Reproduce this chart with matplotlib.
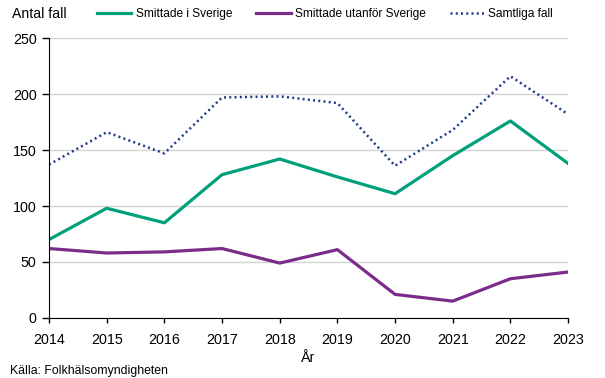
import numpy as np
import matplotlib
matplotlib.use("Agg")
from matplotlib import pyplot as plt

years = [2014, 2015, 2016, 2017, 2018, 2019, 2020, 2021, 2022, 2023]
smittade_sverige = [70, 98, 85, 128, 142, 126, 111, 145, 176, 138]
smittade_utanfor = [62, 58, 59, 62, 49, 61, 21, 15, 35, 41]
samtliga = [137, 166, 147, 197, 198, 192, 136, 168, 216, 182]

plt.rcParams['font.family'] = ['Liberation Sans', 'DejaVu Sans']

fig = plt.figure(figsize=(6.05, 3.78), dpi=100)
ax = fig.add_axes([0.081, 0.159, 0.858, 0.740])

ax.plot(years, smittade_sverige, color='#00A07A', lw=2.3, label='Smittade i Sverige')
ax.plot(years, smittade_utanfor, color='#7B2C8A', lw=2.3, label='Smittade utanför Sverige')
ax.plot(years, samtliga, color='#1F3B8C', lw=1.8, ls=(0, (0.8, 1.3)), label='Samtliga fall')

ax.set_xlim(2014, 2023)
ax.set_ylim(0, 250)
ax.set_xticks(years)
ax.set_yticks(np.arange(0, 251, 50))
ax.tick_params(labelsize=10.3, direction='out', width=1, colors='black')
ax.tick_params(axis='x', length=3.6, pad=7)
ax.tick_params(axis='y', length=5, pad=4)
ax.grid(axis='y', color='#d4d4d4', lw=1)
ax.set_axisbelow(True)
for s in ['top', 'right']:
    ax.spines[s].set_visible(False)
ax.spines['left'].set_color('black')
ax.spines['bottom'].set_color('black')

# axis title "År" sits well below the tick labels
ax.set_xlabel('År', fontsize=10.3, va='center')
ax.xaxis.set_label_coords(0.5, -0.143)

fig.text(0.02, 0.963, 'Antal fall', fontsize=10.1, va='center', ha='left')
fig.legend(loc='center left', bbox_to_anchor=(0.15, 0.963), ncol=3, frameon=False,
           fontsize=8.6, borderpad=0, handlelength=2.9, columnspacing=2.0,
           handletextpad=0.35)
fig.text(0.016, 0.018, 'Källa: Folkhälsomyndigheten', fontsize=8.8, va='center', ha='left')

fig.savefig('out.png', dpi=100)
